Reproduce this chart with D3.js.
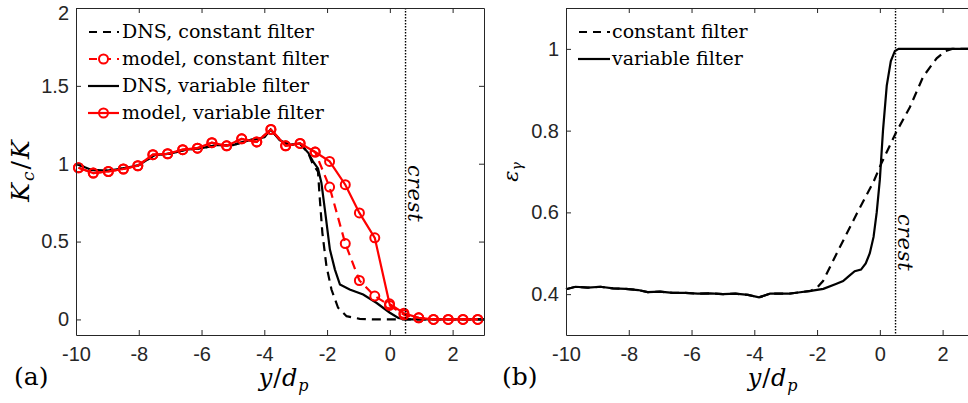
<!DOCTYPE html>
<html>
<head>
<meta charset="utf-8">
<script src="https://cdn.jsdelivr.net/npm/d3@7"></script>
<style>
body { margin: 0; background: #fff; }
.tick text { font-family: "Liberation Sans", Arial, sans-serif; font-size: 20px; fill: #262626; }
.tick line, .domain { stroke: #262626; stroke-width: 1; }
.serif { font-family: "DejaVu Serif", serif; fill: #000; }
</style>
</head>
<body>
<div id="chart"></div>
<script>
const width = 968, height = 403;

// ---- panel (a): K_c / K ----
const xTicks = [-10, -8, -6, -4, -2, 0, 2];
const yTicksA = [0, 0.5, 1, 1.5, 2];
const yTicksB = [0.4, 0.6, 0.8, 1];
const crestX = 0.5;

// model markers (both model curves share these y/d_p positions)
const markX = [-9.92, -9.45, -8.97, -8.49, -8.03, -7.55, -7.08, -6.60, -6.13, -5.67, -5.20, -4.72, -4.24, -3.79,
  -3.32, -2.86, -2.38, -1.92, -1.42, -0.97, -0.48, -0.01, 0.45, 0.92, 1.39, 1.86, 2.33, 2.80];
const modelVar = [0.974, 0.94, 0.95, 0.966, 0.987, 1.058, 1.064, 1.09, 1.10, 1.135, 1.115, 1.16, 1.14, 1.22,
  1.115, 1.13, 1.075, 1.015, 0.865, 0.684, 0.524, 0.10, 0.04, 0.01, 0, 0, 0, 0];
const modelConst = [0.974, 0.94, 0.95, 0.966, 0.987, 1.058, 1.064, 1.09, 1.10, 1.135, 1.115, 1.16, 1.14, 1.22,
  1.115, 1.13, 1.075, 0.85, 0.487, 0.25, 0.15, 0.09, 0.03, 0.01, 0, 0, 0, 0];

// DNS curves
const dnsVarX = [-10, -9.5, -9, -8.5, -8, -7.5, -7, -6.5, -6, -5.5, -5, -4.5, -4, -3.8, -3.5, -3.2, -2.87,
  -2.6, -2.45, -2.29, -2.18, -2.07, -1.91, -1.75, -1.59, -1.28, -0.85, -0.43, 0, 0.27, 0.5, 3];
const dnsVarY = [1.0, 0.96, 0.955, 0.97, 0.99, 1.055, 1.065, 1.09, 1.10, 1.12, 1.12, 1.15, 1.17, 1.22, 1.15, 1.12, 1.13,
  1.07, 1.015, 0.97, 0.876, 0.705, 0.449, 0.32, 0.224, 0.192, 0.16, 0.107, 0.043, 0.01, 0, 0];
const dnsConstX = [-10, -9.5, -9, -8.5, -8, -7.5, -7, -6.5, -6, -5.5, -5, -4.5, -4, -3.8, -3.5, -3.2, -2.87,
  -2.6, -2.45, -2.29, -2.23, -2.15, -2.02, -1.86, -1.65, -1.38, -0.96, -0.5, 3];
const dnsConstY = [1.0, 0.96, 0.955, 0.97, 0.99, 1.055, 1.065, 1.09, 1.10, 1.12, 1.12, 1.15, 1.17, 1.22, 1.15, 1.12, 1.13,
  1.07, 0.994, 0.95, 0.77, 0.556, 0.342, 0.192, 0.075, 0.021, 0.004, 0, 0];

// ---- panel (b): epsilon_gamma ----
const epsVarX = [-10, -9.7, -9.3, -8.9, -8.5, -8.1, -7.7, -7.4, -7.0, -6.6, -6.2, -5.8, -5.4, -5.0, -4.6, -4.2,
  -3.85, -3.5, -3.2, -2.9, -2.6, -2.2, -1.8, -1.4, -1.17, -0.96, -0.8, -0.6, -0.45, -0.32, -0.2, -0.1, 0,
  0.1, 0.22, 0.35, 0.48, 0.6, 3];
const epsVarY = [0.412, 0.418, 0.416, 0.418, 0.414, 0.413, 0.41, 0.405, 0.406, 0.403, 0.403, 0.401, 0.402, 0.400,
  0.401, 0.398, 0.392, 0.401, 0.401, 0.401, 0.404, 0.408, 0.413, 0.425, 0.432, 0.446, 0.456, 0.46, 0.475, 0.50,
  0.54, 0.60, 0.68, 0.80, 0.91, 0.97, 0.995, 1.0, 1.0];
const epsConstX = [-10, -9.7, -9.3, -8.9, -8.5, -8.1, -7.7, -7.4, -7.0, -6.6, -6.2, -5.8, -5.4, -5.0, -4.6, -4.2,
  -3.85, -3.5, -3.2, -2.9, -2.6, -2.2, -2.0, -1.81, -1.28, -0.74, -0.2, 0.05, 0.5, 0.96, 1.38, 1.81, 2.1, 2.3, 3];
const epsConstY = [0.412, 0.418, 0.416, 0.418, 0.414, 0.413, 0.41, 0.405, 0.406, 0.403, 0.403, 0.401, 0.402, 0.400,
  0.401, 0.398, 0.392, 0.401, 0.401, 0.401, 0.404, 0.408, 0.416, 0.432, 0.514, 0.596, 0.675, 0.72, 0.793, 0.858,
  0.932, 0.977, 0.995, 1.0, 1.0];

const legendA = ["DNS, constant filter", "model, constant filter", "DNS, variable filter", "model, variable filter"];
const legendB = ["constant filter", "variable filter"];

const svg = d3.select("#chart").append("svg")
  .attr("width", width).attr("height", height);

const fmt = d => String(d);

//draws box axes with inward ticks
function drawAxes(g, x, y, yTicks) {
  const [x0, x1] = x.range(), [y0, y1] = y.range();
  g.append("g").attr("transform", `translate(0,${y0})`)
    .call(d3.axisBottom(x).tickValues(xTicks).tickFormat(fmt).tickSizeInner(-5).tickSizeOuter(0).tickPadding(12));
  g.append("g").attr("transform", `translate(0,${y1})`)
    .call(d3.axisTop(x).tickValues(xTicks).tickFormat("").tickSizeInner(-5).tickSizeOuter(0));
  const left = g.append("g").attr("transform", `translate(${x0},0)`)
    .call(d3.axisLeft(y).tickValues(yTicks).tickFormat(fmt).tickSizeInner(-5).tickSizeOuter(0).tickPadding(7));
  g.append("g").attr("transform", `translate(${x1},0)`)
    .call(d3.axisRight(y).tickValues(yTicks).tickFormat("").tickSizeInner(-5).tickSizeOuter(0));
  // keep the top label inside the figure, as the original does
  left.selectAll(".tick text").filter(d => y(d) < 12).attr("dy", "0.55em");
}

function drawLine(g, x, y, xs, ys, color, dash) {
  const line = d3.line().x(d => x(d[0])).y(d => y(d[1]));
  g.append("path")
    .datum(d3.zip(xs, ys))
    .attr("d", line)
    .attr("fill", "none")
    .attr("stroke", color)
    .attr("stroke-width", 2.2)
    .attr("stroke-dasharray", dash || null);
}

function drawMarkers(g, x, y, xs, ys) {
  g.append("g").selectAll("circle")
    .data(d3.zip(xs, ys))
    .join("circle")
      .attr("cx", d => x(d[0]))
      .attr("cy", d => y(d[1]))
      .attr("r", 4.5)
      .attr("fill", "none")
      .attr("stroke", "#ff0000")
      .attr("stroke-width", 2);
}

function crest(g, x, y, yTop) {
  g.append("line")
    .attr("x1", x(crestX)).attr("x2", x(crestX))
    .attr("y1", y.range()[1]).attr("y2", y.range()[0])
    .attr("stroke", "#000").attr("stroke-width", 1.4)
    .attr("stroke-dasharray", "1.5,1.5");
  g.append("text")
    .attr("class", "serif")
    .attr("transform", `translate(${x(crestX) + 2},${yTop}) rotate(90)`)
    .attr("font-size", 21).attr("font-style", "italic")
    .attr("letter-spacing", 0.8)
    .text("crest");
}

// ---------- panel (a) ----------
const xA = d3.scaleLinear().domain([-10, 3]).range([76, 484]);
const yA = d3.scaleLinear().domain([-0.1, 2]).range([335, 8]);
const gA = svg.append("g");

drawLine(gA, xA, yA, dnsConstX, dnsConstY, "#000", "9,6");
drawLine(gA, xA, yA, dnsVarX, dnsVarY, "#000");
drawLine(gA, xA, yA, markX, modelConst, "#ff0000", "9,6");
drawMarkers(gA, xA, yA, markX, modelConst);
drawLine(gA, xA, yA, markX, modelVar, "#ff0000");
drawMarkers(gA, xA, yA, markX, modelVar);
crest(gA, xA, yA, 165);
drawAxes(gA, xA, yA, yTicksA);

// legend (a)
const legStyleA = [
  {color: "#000", dash: "9,6", marker: false},
  {color: "#ff0000", dash: "9,6", marker: true},
  {color: "#000", dash: null, marker: false},
  {color: "#ff0000", dash: null, marker: true}
];
legendA.forEach((label, i) => {
  const yy = 32 + i * 27;
  const s = legStyleA[i];
  gA.append("line").attr("x1", 88).attr("x2", 119).attr("y1", yy).attr("y2", yy)
    .attr("stroke", s.color).attr("stroke-width", 2.2)
    .attr("stroke-dasharray", s.dash ? "8,6" : null)
    .attr("stroke-dashoffset", s.dash ? -1 : null);
  if (s.marker) {
    gA.append("circle").attr("cx", 103.5).attr("cy", yy).attr("r", 4.5)
      .attr("fill", i === 1 ? "#fff" : "none").attr("stroke", "#ff0000").attr("stroke-width", 2);
  }
  gA.append("text").attr("class", "serif").attr("x", 122).attr("y", yy + 6)
    .attr("font-size", 19).text(label);
});

// axis labels (a)
const ylabA = svg.append("text").attr("class", "serif")
  .attr("transform", "translate(29,170) rotate(-90)")
  .attr("text-anchor", "middle").attr("font-size", 25).attr("font-style", "italic")
  .attr("letter-spacing", 2);
ylabA.append("tspan").text("K");
ylabA.append("tspan").attr("font-size", 17).attr("dy", 5).text("c");
ylabA.append("tspan").attr("dy", -5).attr("font-style", "normal").text("/");
ylabA.append("tspan").text("K");

function xLabel(cx) {
  const t = svg.append("text").attr("class", "serif")
    .attr("x", cx).attr("y", 386).attr("text-anchor", "middle")
    .attr("font-size", 24).attr("font-style", "italic").attr("letter-spacing", 0.8);
  t.append("tspan").text("y");
  t.append("tspan").attr("font-style", "normal").text("/");
  t.append("tspan").text("d");
  t.append("tspan").attr("font-size", 16).attr("dy", 5).text("p");
}
xLabel(284);
svg.append("text").attr("class", "serif").attr("x", 14).attr("y", 385)
  .attr("font-size", 25).text("(a)");

// ---------- panel (b) ----------
const xB = d3.scaleLinear().domain([-10, 3]).range([566, 974]);
const yB = d3.scaleLinear().domain([0.3, 1.1]).range([335, 8]);
const gB = svg.append("g");

drawLine(gB, xB, yB, epsConstX, epsConstY, "#000", "9,6");
drawLine(gB, xB, yB, epsVarX, epsVarY, "#000");
crest(gB, xB, yB, 214);
drawAxes(gB, xB, yB, yTicksB);

legendB.forEach((label, i) => {
  const yy = 32 + i * 27;
  gB.append("line").attr("x1", 578).attr("x2", 610).attr("y1", yy).attr("y2", yy)
    .attr("stroke", "#000").attr("stroke-width", 2.2)
    .attr("stroke-dasharray", i === 0 ? "8,6" : null)
    .attr("stroke-dashoffset", i === 0 ? -1 : null);
  gB.append("text").attr("class", "serif").attr("x", 612).attr("y", yy + 6)
    .attr("font-size", 19).text(label);
});

const ylabB = svg.append("text").attr("class", "serif")
  .attr("transform", "translate(518,172) rotate(-90)")
  .attr("text-anchor", "middle").attr("font-size", 21).attr("font-style", "italic");
ylabB.append("tspan").text("ε");
ylabB.append("tspan").attr("font-size", 14).attr("dy", 4).text("γ");

xLabel(773);
svg.append("text").attr("class", "serif").attr("x", 502).attr("y", 385)
  .attr("font-size", 25).text("(b)");
</script>
</body>
</html>
